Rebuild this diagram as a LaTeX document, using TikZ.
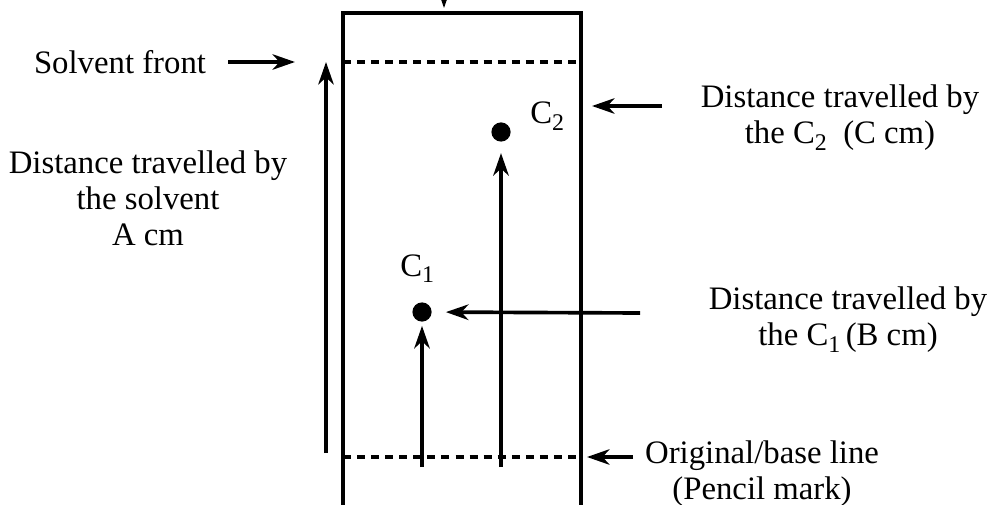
\documentclass[tikz,border=0pt]{standalone}
\usepackage{fontspec}
\setmainfont{Liberation Serif}
\usetikzlibrary{arrows.meta}

\newcommand{\lowsub}[1]{\raisebox{-0.45ex}{\fontsize{17}{17}\selectfont #1}}

\begin{document}
\begin{tikzpicture}[
  x=0.025cm, y=-0.025cm,
  font=\fontsize{23.3}{25.5}\selectfont,
  every node/.style={align=center, inner sep=0pt},
  plate/.style={draw=black, line width=2.3pt},
  levelline/.style={draw=black, line width=2.6pt, dash pattern=on 5.7pt off 4.3pt},
  arrow/.style={draw=black, line width=2.6pt, -{Stealth[length=16pt, width=11pt, inset=5pt]}},
  spot/.style={circle, fill=black, minimum size=0.48cm}
]
\useasboundingbox (0,0) rectangle (992,505);
\clip (0,0) rectangle (992,505);

% plate and lines
\draw[plate] (343,520) -- (343,13) -- (581,13) -- (581,520);
\draw[levelline] (343,62) -- (581,62);
\draw[levelline] (343,457) -- (581,457);

% spots
\node[spot] (cOne) at (422,312) {};
\node[spot] (cTwo) at (501,132) {};
\node[anchor=base west] (cOneLabel) at (400,276) {C\lowsub{1}};
\node[anchor=base west] (cTwoLabel) at (530,124) {C\lowsub{2}};

% texts
\node (frontText) at (120,62) {Solvent front};
\node (solventText) at (148,198) {Distance travelled by\\the solvent\\A cm};
\node (cTwoText) at (840,118) {Distance travelled by\\the C\lowsub{2}\ \ (C cm)};
\node (cOneText) at (848,320) {Distance travelled by\\the C\lowsub{1}\,(B cm)};
\node (baseText) at (762,474) {Original/base line\\(Pencil mark)};

% arrow ends
\coordinate (topIn) at (444,-20);
\coordinate (topTip) at (444,8);
\coordinate (frontTip) at (295,62);
\coordinate (solventTail) at (326,453);
\coordinate (solventTip) at (326,62);
\coordinate (cOneFoot) at (422,467);
\coordinate (cTwoFoot) at (501,467);
\coordinate (cOneTail) at (640,313);
\coordinate (cTwoTail) at (662,106);
\coordinate (cTwoTip) at (592,106);
\coordinate (baseTail) at (633,457);
\coordinate (baseTip) at (587,457);

\draw[arrow] (topIn) -- (topTip);
\draw[arrow] ([xshift=0.55cm]frontText.east) -- (frontTip);
\draw[arrow] (solventTail) -- (solventTip);
\draw[arrow, shorten >=0.1cm] (cOneFoot) -- (cOne);
\draw[arrow, shorten >=0.28cm] (cTwoFoot) -- (cTwo);
\draw[arrow, shorten >=0.35cm] (cOneTail) -- (cOne);
\draw[arrow] (cTwoTail) -- (cTwoTip);
\draw[arrow] (baseTail) -- (baseTip);
\end{tikzpicture}
\end{document}
